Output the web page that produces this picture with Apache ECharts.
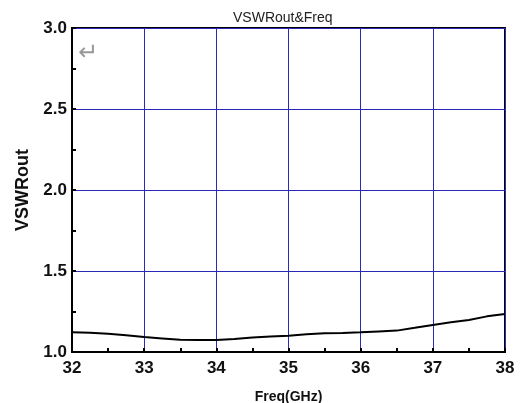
<!DOCTYPE html>
<html lang="en">
<head>
<meta charset="UTF-8">
<script src="https://cdn.jsdelivr.net/npm/echarts@6/dist/echarts.min.js"></script>
<style>
  html, body { margin: 0; padding: 0; background: #fff; }
  #chart { width: 520px; height: 403px; }
</style>
</head>
<body>
<div id="chart"></div>
<script>
// frequency points (GHz) and VSWR
var freq = [32.0, 32.25, 32.5, 32.75, 33.0, 33.25, 33.5, 33.75, 34.0, 34.25, 34.5, 34.75,
            35.0, 35.25, 35.5, 35.75, 36.0, 36.25, 36.5, 36.75, 37.0, 37.25, 37.5, 37.75, 38.0];
var vswr = [1.122, 1.119, 1.113, 1.103, 1.093, 1.084, 1.075, 1.074, 1.074, 1.080, 1.089, 1.096,
            1.101, 1.110, 1.115, 1.118, 1.122, 1.127, 1.132, 1.149, 1.167, 1.183, 1.198, 1.220, 1.235];

var chart = echarts.init(document.getElementById('chart'));

var pts = [];
for (var i = 0; i < freq.length; i++) pts.push([freq[i], vswr[i]]);

var option = {
  animation: false,
  title: {
    text: 'VSWRout&Freq',
    left: 228,
    top: 6,
    textStyle: { fontFamily: 'Liberation Sans', fontSize: 14, fontWeight: 'normal', color: '#222' }
  },
  grid: {
    left: 72, right: 15, top: 28, bottom: 51,
    outerBoundsMode: 'none',
    containLabel: false,
    show: true, borderColor: '#000', borderWidth: 2, backgroundColor: 'transparent'
  },
  xAxis: {
    type: 'value',
    min: 32, max: 38, interval: 1,
    name: 'Freq(GHz)',
    nameLocation: 'middle',
    nameGap: 38,
    nameTextStyle: { fontFamily: 'Liberation Sans', fontSize: 14, fontWeight: 'bold', color: '#111' },
    axisLine: { show: true, lineStyle: { color: '#000', width: 2 } },
    axisTick: { show: true, inside: true, length: 4, lineStyle: { color: '#000', width: 2 } },
    minorTick: { show: true, splitNumber: 2, length: 4, lineStyle: { color: '#000', width: 2 } },
    axisLabel: { margin: 8, fontFamily: 'Liberation Sans', fontSize: 17, fontWeight: 'bold', color: '#111' },
    splitLine: { show: true, lineStyle: { color: '#2a2ab8', width: 1 } }
  },
  yAxis: {
    type: 'value',
    min: 1, max: 3, interval: 0.5,
    name: 'VSWRout',
    nameLocation: 'middle',
    nameGap: 38,
    nameTextStyle: { fontFamily: 'Liberation Sans', fontSize: 18, fontWeight: 'bold', color: '#111' },
    axisLine: { show: true, lineStyle: { color: '#000', width: 2 } },
    axisTick: { show: true, inside: true, length: 4, lineStyle: { color: '#000', width: 2 } },
    minorTick: { show: true, splitNumber: 2, length: 4, lineStyle: { color: '#000', width: 2 } },
    axisLabel: {
      margin: 5, fontFamily: 'Liberation Sans', fontSize: 17, fontWeight: 'bold', color: '#111',
      formatter: function (v) { return v.toFixed(1); }
    },
    splitLine: { show: true, lineStyle: { color: '#2a2ab8', width: 1 } }
  },
  graphic: [{
    type: 'text',
    left: 78, top: 42,
    style: { text: '\u21B5', fontFamily: 'DejaVu Sans', fontSize: 24, fill: '#999' }
  }],
  series: [{
    type: 'line',
    data: pts,
    showSymbol: false,
    lineStyle: { color: '#000', width: 2 }
  }]
};
chart.setOption(option);
</script>
</body>
</html>
